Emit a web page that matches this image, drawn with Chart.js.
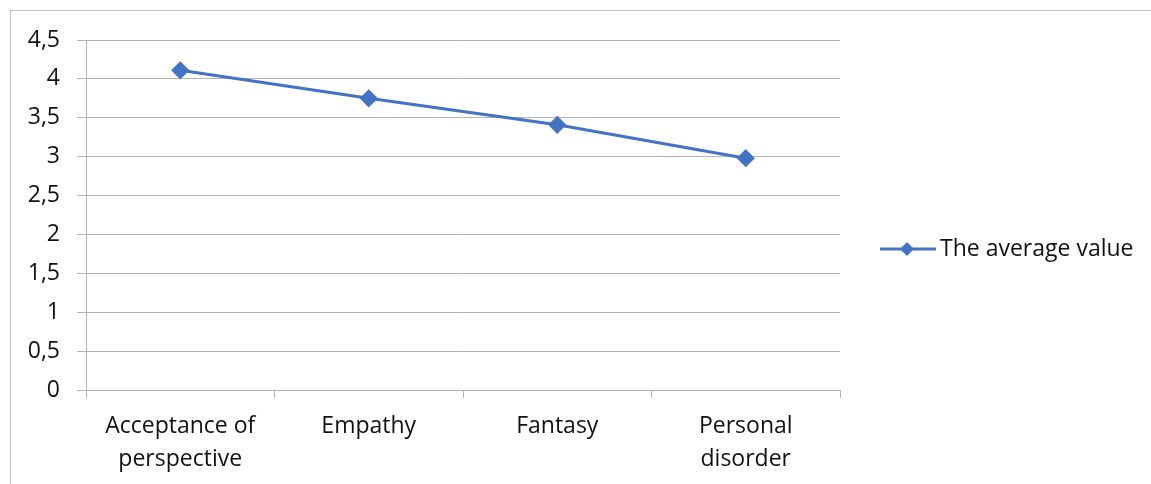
<!DOCTYPE html>
<html>
<head>
<meta charset="utf-8">
<script src="https://cdn.jsdelivr.net/npm/chart.js@4"></script>
<style>
html,body{margin:0;padding:0;background:#fff;}
#wrap{width:1151px;height:484px;position:relative;}
</style>
</head>
<body>
<div id="wrap"><canvas id="c" width="1151" height="484"></canvas></div>
<script>
const categories = [["Acceptance of","perspective"], "Empathy", "Fantasy", ["Personal","disorder"]];
const seriesName = "The average value";
const averageValues = [4.11, 3.75, 3.41, 2.98];
const yTicks = [0, 0.5, 1, 1.5, 2, 2.5, 3, 3.5, 4, 4.5];

const FONT = "'Open Sans', sans-serif";
const LINE_COLOR = "#4472c4";
const GRID = "#b4b4b4";

const frame = {
  id: 'frame',
  beforeDraw(chart) {
    const ctx = chart.ctx;
    ctx.save();
    ctx.fillStyle = '#fff';
    ctx.fillRect(0, 0, chart.width, chart.height);
    ctx.strokeStyle = '#c0c0c0';
    ctx.lineWidth = 1;
    ctx.strokeRect(10.5, 10.5, 1300, 700);
    ctx.restore();
  }
};

const legendPlugin = {
  id: 'customLegend',
  afterDraw(chart) {
    const ctx = chart.ctx;
    const ds = chart.data.datasets[0];
    const y = 249;
    ctx.save();
    ctx.strokeStyle = ds.borderColor;
    ctx.lineWidth = 3;
    ctx.beginPath();
    ctx.moveTo(880, y);
    ctx.lineTo(936, y);
    ctx.stroke();
    ctx.fillStyle = ds.pointBackgroundColor;
    const r = 7;
    ctx.beginPath();
    ctx.moveTo(907, y - r);
    ctx.lineTo(907 + r, y);
    ctx.lineTo(907, y + r);
    ctx.lineTo(907 - r, y);
    ctx.closePath();
    ctx.fill();
    ctx.fillStyle = '#111';
    ctx.font = "23px " + FONT;
    ctx.textBaseline = 'middle';
    ctx.textAlign = 'left';
    ctx.fillText(ds.label, 940, y);
    ctx.restore();
  }
};

new Chart(document.getElementById('c'), {
  type: 'line',
  data: {
    labels: categories,
    datasets: [{
      label: seriesName,
      data: averageValues,
      borderColor: LINE_COLOR,
      backgroundColor: LINE_COLOR,
      pointBackgroundColor: LINE_COLOR,
      pointBorderColor: LINE_COLOR,
      borderWidth: 3,
      pointStyle: 'rectRot',
      pointRadius: 7,
      pointHoverRadius: 7,
      tension: 0
    }]
  },
  options: {
    responsive: false,
    animation: false,
    devicePixelRatio: 1,
    layout: { padding: { top: 40, right: 311, left: 0, bottom: 0 } },
    plugins: { legend: { display: false }, tooltip: { enabled: false } },
    scales: {
      x: {
        type: 'category',
        offset: true,
        afterFit(scale) { scale.height = 94; },
        grid: { offset: true, drawOnChartArea: false, drawTicks: true, tickLength: 8, color: GRID, lineWidth: 1 },
        border: { display: true, color: GRID, width: 1 },
        ticks: {
          color: '#111',
          font: { family: FONT, size: 23, lineHeight: 1.42 },
          padding: 12,
          maxRotation: 0,
          autoSkip: false
        }
      },
      y: {
        min: 0,
        max: 4.5,
        afterFit(scale) { scale.width = 86; },
        afterBuildTicks(scale) { scale.ticks = yTicks.map(v => ({ value: v })); },
        grid: { color: GRID, lineWidth: 1, tickLength: 9, drawTicks: true },
        border: { display: true, color: GRID, width: 1 },
        ticks: {
          color: '#111',
          font: { family: FONT, size: 23 },
          padding: 17,
          callback: v => String(v).replace('.', ',')
        }
      }
    }
  },
  plugins: [frame, legendPlugin]
});
</script>
</body>
</html>
